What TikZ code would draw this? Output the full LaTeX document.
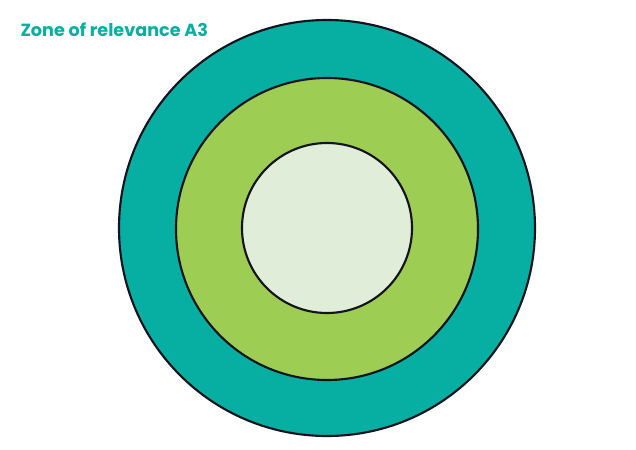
\documentclass[tikz,border=0pt]{standalone}
\usepackage{fontspec}
\setmainfont{Poppins}
\definecolor{zoneteal}{RGB}{7,175,162}
\definecolor{zonegreen}{RGB}{157,205,83}
\definecolor{zonelight}{RGB}{224,237,216}
\tikzset{every picture/.style={line width=0.75pt}}
\begin{document}
\begin{tikzpicture}[x=0.75pt,y=0.75pt,yscale=-1,xscale=1]
\path[use as bounding box] (0,0) rectangle (636,450);

%Outer ring
\draw [color={rgb, 255:red, 20; green, 20; blue, 30 }, fill=zoneteal, line width=1.6] (327,228) circle (208) ;
%Middle ring
\draw [color={rgb, 255:red, 20; green, 20; blue, 30 }, fill=zonegreen, line width=1.6] (327,229) circle (151) ;
%Inner circle
\draw [color={rgb, 255:red, 20; green, 20; blue, 30 }, fill=zonelight, line width=1.6] (327,228) circle (85) ;

% Text Node
\draw (19,30) node [anchor=west][inner sep=0.75pt] [font=\bfseries\fontsize{13.2}{16}\selectfont, color=zoneteal]  {Zone of relevance A3};

\end{tikzpicture}
\end{document}
